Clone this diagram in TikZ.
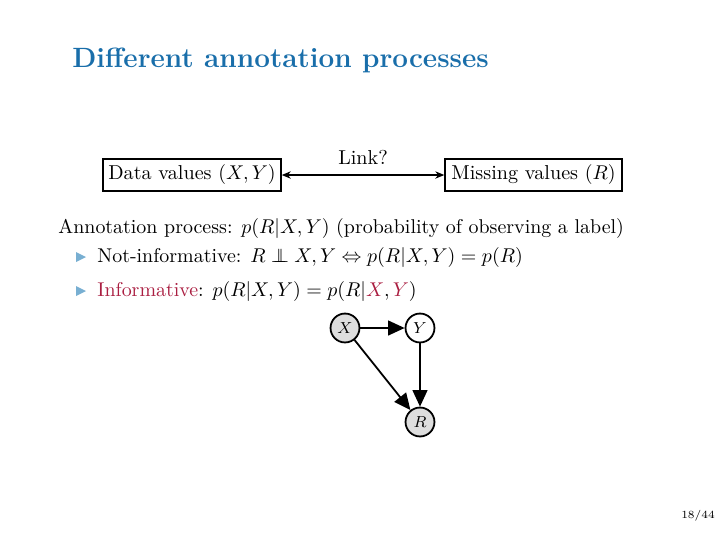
\documentclass[tikz,border=0pt]{standalone}
\usepackage{amsmath,amssymb}
\usetikzlibrary{arrows.meta}
\definecolor{titleblue}{RGB}{25,110,170}
\definecolor{alertred}{RGB}{170,30,65}
\definecolor{bulletblue}{RGB}{120,175,210}
\definecolor{nodegray}{RGB}{222,222,222}
\newcommand{\indepsym}{\mathrel{\perp\!\!\!\!\perp}}
\tikzset{
  body/.style={anchor=base west, inner sep=0pt, font=\fontsize{10}{12.3}\selectfont},
  boxnode/.style={draw, line width=0.7pt, minimum height=5.6mm, inner sep=0pt, font=\fontsize{10.1}{12.5}\selectfont},
  gnode/.style={circle, draw, line width=0.9pt, minimum size=5.1mm, inner sep=0pt, font=\fontsize{8}{10}\selectfont},
  garrow/.style={line width=0.9pt, -{Triangle[length=2.9mm, width=2.6mm]}},
  bullet/.style={fill=bulletblue, draw=none},
}
\begin{document}
\begin{tikzpicture}[x=0.17631mm, y=-0.17631mm]
\useasboundingbox (0,0) rectangle (726,544);
% title
\node[anchor=base west, inner sep=0pt, text=titleblue, font=\fontsize{14}{17}\selectfont\bfseries] (title) at (72,67) {Different annotation processes};
% boxes
\node[boxnode, minimum width=31.4mm] (data) at (192,175) {Data values $(X,Y)$};
\node[boxnode, minimum width=31.2mm] (miss) at (533.5,175) {Missing values $(R)$};
\draw[line width=0.6pt, {Stealth[length=1.6mm,width=1.3mm]}-{Stealth[length=1.6mm,width=1.3mm]}] (data.east) -- node[above=0.6mm, font=\fontsize{10.1}{12.5}\selectfont] (link) {Link?} (miss.west);
% text
\node[body] (ann) at (58,233) {Annotation process: $p(R|X,Y)$ (probability of observing a label)};
\fill[bullet] (76,252) -- (86,257) -- (76,262) -- cycle;
\node[body] (b1) at (97,262) {Not-informative: $R \indepsym X,Y \Leftrightarrow p(R|X,Y)=p(R)$};
\fill[bullet] (76,286) -- (86,291) -- (76,296) -- cycle;
\node[body] (b2) at (97,296) {\textcolor{alertred}{Informative}: $p(R|X,Y)=p(R|\textcolor{alertred}{X},\textcolor{alertred}{Y})$};
% graph
\node[gnode, fill=nodegray] (X) at (345,328) {$X$};
\node[gnode, fill=white] (Y) at (420,328) {$Y$};
\node[gnode, fill=nodegray] (R) at (420,422) {$R$};
\draw[garrow] (X) -- (Y);
\draw[garrow] (Y) -- (R);
\draw[garrow] (X) -- (R);
% page number
\node[inner sep=0pt, font=\fontsize{5.5}{6.5}\selectfont] (page) at (698,516) {18/44};
\end{tikzpicture}
\end{document}
